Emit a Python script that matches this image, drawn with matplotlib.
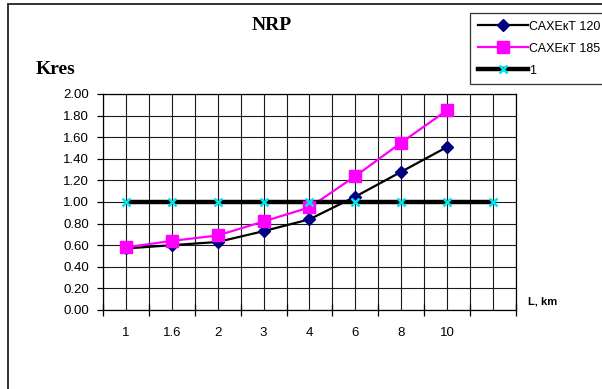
import matplotlib
matplotlib.use("Agg")
import matplotlib.pyplot as plt
from matplotlib.lines import Line2D
from matplotlib.patches import Rectangle
import numpy as np

# Data
categories = ["1", "1.6", "2", "3", "4", "6", "8", "10", ""]
kres_120 = [0.57, 0.60, 0.63, 0.73, 0.84, 1.05, 1.28, 1.51]
kres_185 = [0.58, 0.64, 0.69, 0.82, 0.95, 1.24, 1.55, 1.85]
ref_line = [1.0, 1.0, 1.0, 1.0, 1.0, 1.0, 1.0, 1.0, 1.0]
series_names = ["САХЕкТ 120", "САХЕкТ 185", "1"]
y_ticks = [0.0, 0.2, 0.4, 0.6, 0.8, 1.0, 1.2, 1.4, 1.6, 1.8, 2.0]

W, H = 602, 389
fig = plt.figure(figsize=(W / 100, H / 100), dpi=100)
fig.patch.set_facecolor("white")

def fx(px):
    return px / W

def fy(py):
    return 1 - py / H

# outer chart frame
fig.patches.append(Rectangle((fx(8), fy(420)), fx(620), fy(4) - fy(420),
                             transform=fig.transFigure, fill=False,
                             edgecolor="#222222", linewidth=1.3))

ax = fig.add_axes([fx(103), fy(310), fx(516) - fx(103), fy(94) - fy(310)])
ax.set_facecolor("white")

n = len(categories)
x_all = np.arange(n)
ax.set_xlim(-0.5, n - 0.5)
ax.set_ylim(0, 2.0)

# gridlines
for gx in np.arange(-0.5, n, 0.5):
    ax.axvline(gx, color="#1a1a1a", lw=0.8, zorder=1)
for gy in y_ticks:
    ax.axhline(gy, color="#1a1a1a", lw=0.8, zorder=1)

x1 = np.arange(len(kres_120))
x2 = np.arange(len(kres_185))

# lines first, markers on top
ax.plot(x1, kres_120, color="black", lw=1.6, zorder=3)
ax.plot(x2, kres_185, color="#ff00ff", lw=1.6, zorder=3)
ax.plot(x_all, ref_line, color="black", lw=3.2, zorder=3, solid_capstyle="butt")
ax.plot(x1, kres_120, ls="none", marker="D", ms=6, mfc="#000080", mec="#000080", zorder=4)
ax.plot(x2, kres_185, ls="none", marker="s", ms=9, mfc="#ff00ff", mec="#ff00ff", zorder=5)
ax.plot(x_all, ref_line, ls="none", marker="x", ms=6, mew=1.8, color="#00e5ee", zorder=6)

ax.set_yticks(y_ticks)
ax.set_yticklabels([f"{v:.2f}" for v in y_ticks], fontsize=9.5, family="Liberation Sans")
ax.set_xticks(np.arange(-0.5, n, 1.0))
ax.set_xticklabels([])
ax.set_xticks(x_all, minor=True)
ax.set_xticklabels(categories, minor=True, fontsize=9.5, family="Liberation Sans")
ax.tick_params(axis="x", which="major", direction="inout", length=9, width=0.9, color="black")
ax.tick_params(axis="x", which="minor", length=0, pad=12)
ax.tick_params(axis="y", direction="out", length=4, width=0.9, pad=6)
for s in ax.spines.values():
    s.set_color("black")
    s.set_linewidth(0.9)

fig.text(fx(272), fy(26), "NRP", ha="center", va="center", fontsize=14,
         fontweight="bold", family="Liberation Serif")
fig.text(fx(36), fy(69), "Kres", ha="left", va="center", fontsize=14,
         fontweight="bold", family="Liberation Serif")
fig.text(fx(528), fy(301), "L, km", ha="left", va="center", fontsize=8,
         fontweight="bold", family="Liberation Sans")

handles = [
    Line2D([], [], color="black", lw=1.6, marker="D", ms=6, mfc="#000080", mec="#000080"),
    Line2D([], [], color="#ff00ff", lw=1.6, marker="s", ms=9, mfc="#ff00ff", mec="#ff00ff"),
    Line2D([], [], color="black", lw=3.2, marker="x", ms=6, mew=1.8, mec="#00e5ee"),
]
leg = fig.legend(handles, series_names, loc="upper left",
                 bbox_to_anchor=(fx(470), fy(13)), frameon=True, fancybox=False,
                 edgecolor="black", handlelength=4.0, handletextpad=0.1,
                 labelspacing=0.8, borderpad=0.6, borderaxespad=0,
                 prop={"family": "Liberation Sans", "size": 9})
leg.get_frame().set_linewidth(0.9)

fig.savefig("out.png", dpi=100)
